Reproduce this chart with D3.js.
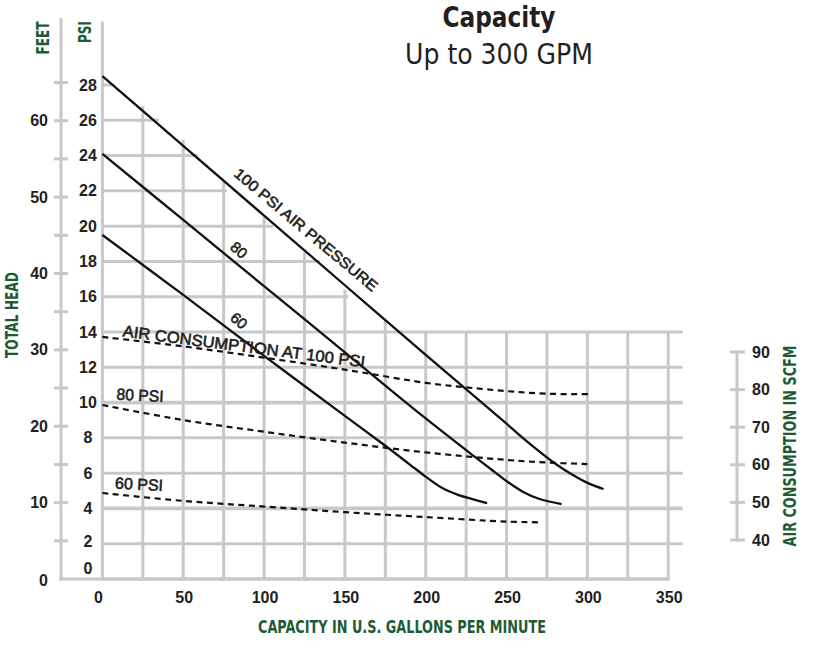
<!DOCTYPE html>
<html><head><meta charset="utf-8">
<script src="https://cdn.jsdelivr.net/npm/d3@7"></script>
<style>html,body{margin:0;padding:0;background:#fff;}svg{display:block;}</style>
</head><body>
<svg id="chart" width="823" height="646"></svg>
<script>
// ---- data ----
const gpmTicks = [0, 50, 100, 150, 200, 250, 300, 350];
const psiTicks = [0, 2, 4, 6, 8, 10, 12, 14, 16, 18, 20, 22, 24, 26, 28];
const feetTicks = [0, 10, 20, 30, 40, 50, 60];
const feetMinorTicks = [5, 15, 25, 35, 45, 55, 65];
const scfmTicks = [40, 50, 60, 70, 80, 90];
const gridGpm = [0, 25, 50, 75, 100, 125, 150, 175, 200, 225, 250, 275, 300, 325, 350];
// top of each vertical grid line (psi)
const gridGpmTop = [31.6, 26.8, 24.9, 22.5, 20.5, 18.5, 16.4, 14.7, 14, 14, 14, 14, 14, 14, 14];
// right end of each horizontal grid line (gpm), psi 0..28
const gridPsiEnd = [350, 359, 359, 359, 359, 359, 359, 359, 152, 134.6, 105.5, 77, 59, 35, 7.8];
// pump curves: [GPM, PSI]
const head100 = [[0,28.5],[50,24.55],[100,20.6],[150,16.65],[200,12.7],[250,8.8],[260,8.0],[270,7.25],[280,6.55],[290,5.95],[300,5.45],[310,5.1]];
const head80 = [[0,24.1],[50,20.35],[100,16.6],[150,12.85],[200,9.1],[230,6.95],[240,6.25],[250,5.55],[260,4.95],[270,4.55],[284,4.25]];
const head60 = [[0,19.5],[50,16.1],[100,12.65],[150,9.25],[175,7.55],[190,6.5],[200,5.8],[210,5.17],[220,4.77],[230,4.5],[238,4.3]];
// air consumption: [GPM, SCFM]
const air100 = [[0,94.0],[50,91.5],[100,88.5],[150,85.3],[200,81.8],[225,80.6],[250,79.6],[275,78.9],[302,78.8]];
const air80 = [[0,75.9],[50,71.9],[100,68.8],[150,65.9],[200,63.3],[250,61.3],[275,60.6],[300,60.2]];
const air60 = [[0,52.5],[50,50.4],[100,48.9],[150,47.4],[200,46.1],[250,44.9],[270,44.7]];

// ---- scales ----
const svg = d3.select("#chart");
const x = d3.scaleLinear().domain([0, 350]).range([102.4, 668.2]);
const yP = d3.scaleLinear().domain([0, 28]).range([579, 85]);
const yF = d3.scaleLinear().domain([0, 28 * 2.31]).range([579, 85]);
const yA = d3.scaleLinear().domain([40, 90]).range([540, 352]);

const GRID = "#c8c8c8", INK = "#231f20", GREEN = "#1e5b35";
const tickFont = "'Liberation Sans', Arial, sans-serif";
const condFont = "'Liberation Sans Narrow', 'DejaVu Sans Condensed', 'Liberation Sans', sans-serif";

// ---- grid ----
const g = svg.append("g");
g.selectAll("line.v").data(gridGpm).join("line")
  .attr("x1", d => x(d)).attr("x2", d => x(d))
  .attr("y1", (d, i) => yP(gridGpmTop[i])).attr("y2", yP(0) + 1.5)
  .attr("stroke", GRID).attr("stroke-width", 3);
g.selectAll("line.h").data(psiTicks).join("line")
  .attr("x1", x(0)).attr("x2", (d, i) => x(gridPsiEnd[i]))
  .attr("y1", d => yP(d)).attr("y2", d => yP(d))
  .attr("stroke", GRID).attr("stroke-width", d => (d === 10 || d === 4) ? 3.8 : 3);

// feet axis line + bottom line
const feetX = 61;
g.append("line").attr("x1", feetX).attr("x2", feetX).attr("y1", 18).attr("y2", yP(0) + 1.5)
  .attr("stroke", GRID).attr("stroke-width", 3);
g.append("line").attr("x1", feetX - 1.5).attr("x2", x(350) + 1.5).attr("y1", yP(0)).attr("y2", yP(0))
  .attr("stroke", GRID).attr("stroke-width", 3);
g.selectAll("line.ft").data(feetTicks.filter(d => d > 0).concat(feetMinorTicks)).join("line")
  .attr("x1", feetX - 7).attr("x2", feetX + 7)
  .attr("y1", d => yF(d)).attr("y2", d => yF(d))
  .attr("stroke", GRID).attr("stroke-width", 3);

// right SCFM axis
const airX = 737;
g.append("line").attr("x1", airX).attr("x2", airX).attr("y1", yA(90) - 1.5).attr("y2", yA(40) + 1.5)
  .attr("stroke", GRID).attr("stroke-width", 3);
g.selectAll("line.at").data(scfmTicks).join("line")
  .attr("x1", airX - 7).attr("x2", airX + 8)
  .attr("y1", d => yA(d)).attr("y2", d => yA(d))
  .attr("stroke", GRID).attr("stroke-width", 3);

// ---- tick labels ----
const lab = svg.append("g").attr("font-family", tickFont).attr("font-weight", "bold")
  .attr("font-size", 16).attr("fill", INK);
lab.selectAll("text.f").data(feetTicks).join("text")
  .attr("x", 48).attr("y", d => yF(d) + (d === 0 ? 1 : 0)).attr("dy", "0.35em")
  .attr("text-anchor", "end").text(d => d);
lab.selectAll("text.p").data(psiTicks).join("text")
  .attr("x", 88).attr("y", d => d === 0 ? yP(0) - 11 : yP(d) + (d === 2 ? -2 : 0)).attr("dy", "0.35em")
  .attr("text-anchor", "middle").text(d => d);
lab.selectAll("text.x").data(gpmTicks).join("text")
  .attr("x", d => x(d) + (d === 0 ? -4 : 1)).attr("y", 597).attr("dy", "0.35em")
  .attr("text-anchor", "middle").text(d => d);
lab.selectAll("text.a").data(scfmTicks).join("text")
  .attr("x", 752).attr("y", d => yA(d)).attr("dy", "0.35em")
  .attr("text-anchor", "start").text(d => d);

// ---- axis titles ----
const tt = svg.append("g").attr("font-family", condFont).attr("font-weight", "bold").attr("fill", GREEN);
function vtitle(cx, cy, txt, len, size) {
  tt.append("text").attr("transform", `translate(${cx},${cy}) rotate(-90)`)
    .attr("text-anchor", "middle").attr("dy", "0.36em").attr("font-size", size)
    .attr("textLength", len).attr("lengthAdjust", "spacingAndGlyphs").text(txt);
}
vtitle(43, 38, "FEET", 33, 17);
vtitle(85, 32, "PSI", 22, 17);
vtitle(12, 315, "TOTAL HEAD", 86, 17);
vtitle(790, 446, "AIR CONSUMPTION IN SCFM", 201, 17);
tt.append("text").attr("x", 402).attr("y", 627).attr("dy", "0.36em").attr("text-anchor", "middle")
  .attr("font-size", 17).attr("textLength", 288).attr("lengthAdjust", "spacingAndGlyphs")
  .text("CAPACITY IN U.S. GALLONS PER MINUTE");

// ---- title ----
svg.append("text").attr("x", 499).attr("y", 27).attr("text-anchor", "middle")
  .attr("font-family", condFont).attr("font-weight", "bold").attr("font-size", 28).attr("fill", INK)
  .attr("textLength", 113).attr("lengthAdjust", "spacingAndGlyphs").text("Capacity");
svg.append("text").attr("x", 499).attr("y", 64).attr("text-anchor", "middle")
  .attr("font-family", condFont).attr("font-size", 29).attr("fill", INK)
  .attr("textLength", 188).attr("lengthAdjust", "spacingAndGlyphs").text("Up to 300 GPM");

// ---- curves ----
const headLine = d3.line().x(d => x(d[0])).y(d => yP(d[1])).curve(d3.curveCatmullRom.alpha(0.5));
const airLine = d3.line().x(d => x(d[0])).y(d => yA(d[1])).curve(d3.curveCatmullRom.alpha(0.5));
const curves = svg.append("g").attr("fill", "none");
[head100, head80, head60].forEach(s => {
  curves.append("path").attr("d", headLine(s)).attr("stroke", "#111").attr("stroke-width", 2.3);
});
[air100, air80, air60].forEach(s => {
  curves.append("path").attr("d", airLine(s)).attr("stroke", "#111").attr("stroke-width", 2.2)
    .attr("stroke-dasharray", "6,4.5");
});

// ---- curve labels ----
const cl = svg.append("g").attr("font-family", tickFont).attr("fill", INK)
  .attr("stroke", INK).attr("stroke-width", 0.6);
function clabel(gpm, psi, ang, txt, size, len) {
  const t = cl.append("text").attr("transform", `translate(${x(gpm)},${yP(psi)}) rotate(${ang})`)
    .attr("text-anchor", "middle").attr("dy", "0.36em").attr("font-size", size).text(txt);
  if (len) t.attr("textLength", len).attr("lengthAdjust", "spacingAndGlyphs");
}
clabel(126, 19.8, 40, "100 PSI AIR PRESSURE", 15, 182);
clabel(84.5, 18.65, 41, "80", 15);
clabel(84.5, 14.65, 41, "60", 15);
clabel(87.6, 13.2, 7.3, "AIR CONSUMPTION AT 100 PSI", 16, 244);
clabel(23.3, 10.43, 3, "80 PSI", 16, 47);
clabel(22.7, 5.38, 3, "60 PSI", 16, 48);
</script>
</body></html>
